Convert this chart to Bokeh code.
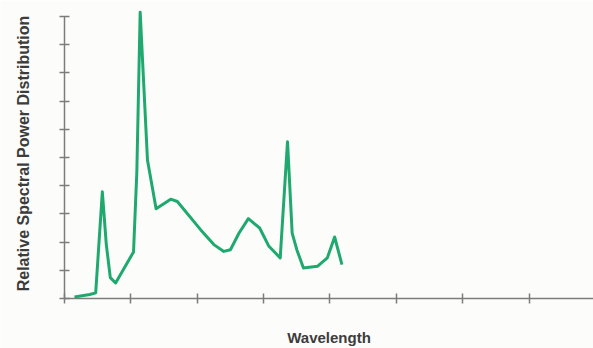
from bokeh.plotting import figure
from bokeh.models import FixedTicker, Range1d
from bokeh.embed import file_html
from bokeh.resources import INLINE

# Spectral data (arbitrary wavelength units, relative power)
wavelength = [0.15, 0.38, 0.47, 0.57, 0.63, 0.69, 0.77, 1.04, 1.09, 1.14, 1.25, 1.38,
              1.60, 1.70, 2.05, 2.25, 2.40, 2.50, 2.63, 2.77, 2.94, 3.08, 3.25, 3.36,
              3.43, 3.50, 3.60, 3.81, 3.96, 4.07, 4.18]
power = [0.05, 0.14, 0.20, 3.78, 1.91, 0.74, 0.55, 1.65, 4.50, 10.15, 4.91, 3.18,
         3.52, 3.44, 2.44, 1.91, 1.67, 1.73, 2.32, 2.83, 2.50, 1.85, 1.44, 5.56,
         2.32, 1.73, 1.08, 1.14, 1.44, 2.18, 1.20]
x_ticks = [0, 1, 2, 3, 4, 5, 6, 7]
y_ticks = [0, 1, 2, 3, 4, 5, 6, 7, 8, 9, 10]

BG = "#fcfcfa"
AXIS = "#7c7c7c"
TEXT = "#3c3c3c"
GREEN = "#1fa96f"

p = figure(width=593, height=348, output_backend="svg", toolbar_location=None,
           x_range=Range1d(0, 7.97), y_range=Range1d(0, 10.28),
           min_border_left=64, min_border_right=0, min_border_top=8, min_border_bottom=49,
           background_fill_color=BG, border_fill_color=BG)
p.outline_line_color = None
p.grid.grid_line_color = None

p.line(wavelength, power, line_color=GREEN, line_width=3, line_join="round")

for ax, ticks, lbl in ((p.xaxis[0], x_ticks, "Wavelength"),
                       (p.yaxis[0], y_ticks, "Relative Spectral Power Distribution")):
    ax.ticker = FixedTicker(ticks=ticks)
    ax.major_label_overrides = {t: "" for t in ticks}
    ax.axis_line_color = AXIS
    ax.axis_line_width = 1.5
    ax.major_tick_line_color = AXIS
    ax.major_tick_line_width = 1.5
    ax.major_tick_in = 5
    ax.major_tick_out = 5
    ax.minor_tick_line_color = None
    ax.axis_label = lbl
    ax.axis_label_text_font = "Liberation Sans"
    ax.axis_label_text_font_style = "bold"
    ax.axis_label_text_color = TEXT

p.xaxis[0].bounds = (0, 7.97)
p.yaxis[0].bounds = (0, 10)
p.xaxis[0].axis_label_text_font_size = "15px"
p.xaxis[0].axis_label_standoff = 25
p.yaxis[0].axis_label_text_font_size = "16px"
p.yaxis[0].axis_label_standoff = 28

open("out.html", "w").write(file_html(p, INLINE))
